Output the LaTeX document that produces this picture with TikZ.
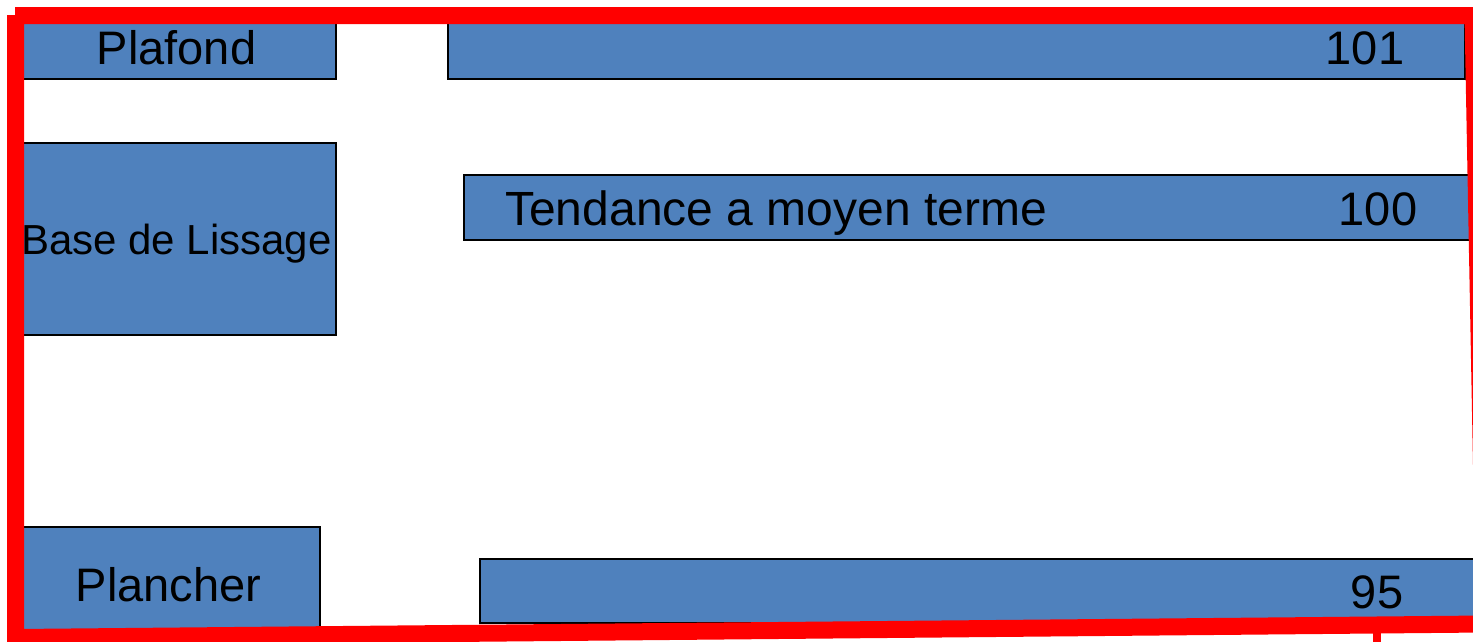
\documentclass[tikz,border=0pt]{standalone}
\usepackage{fontspec}
\setmainfont{Liberation Sans}
\definecolor{barblue}{HTML}{4F81BD}
\begin{document}
\begin{tikzpicture}[x=1pt,y=-1pt,
  box/.style={draw=black,line width=2pt,fill=barblue,inner sep=0pt,outer sep=0pt},
  lbl/.style={font=\fontsize{47}{56}\selectfont,text height=34pt,text depth=0pt},
  lblwide/.style={font=\fontsize{48}{57}\selectfont,text height=34.5pt,text depth=0pt},
  lblsmall/.style={font=\fontsize{42}{50}\selectfont,text height=30pt,text depth=0pt},
  frame/.style={draw=red,line width=17pt,line cap=butt,line join=miter}]
\useasboundingbox (0,0) rectangle (1473,641);
\clip (0,0) rectangle (1473,641);
% boxes
\node[box,lbl,minimum width=319pt,minimum height=64pt] (plafond) at (176.5,47) {Plafond};
\node[box,minimum width=1017pt,minimum height=64pt] (topbar) at (956.5,47) {};
\node[box,lblsmall,minimum width=319pt,minimum height=192pt] (base) at (176.5,239) {Base de Lissage};
\node[box,minimum width=1006pt,minimum height=65pt] (tend) at (967,207.5) {};
\node[box,lbl,minimum width=303pt,minimum height=114pt] (planch) at (168.5,584) {Plancher};
\node[box,minimum width=1015pt,minimum height=64pt] (botbar) at (987.5,591) {};
% labels in bars
\node[lbl,inner sep=0pt] (v101) at (1365,47) {101};
\node[lblwide,inner sep=0pt,anchor=west] (tendtxt) at (505,208) {Tendance a moyen terme};
\node[lbl,inner sep=0pt] (v100) at (1378,208) {100};
\node[lbl,inner sep=0pt] (v95) at (1377,591.5) {95};
% red frame
\draw[frame] (15.5,15) -- (15.5,637.5) -- (1484.5,624) -- (1473,15.5) -- (15,15.5);
\draw[red,line width=8pt] (1376.5,626) -- (1376.5,645);
\end{tikzpicture}
\end{document}
